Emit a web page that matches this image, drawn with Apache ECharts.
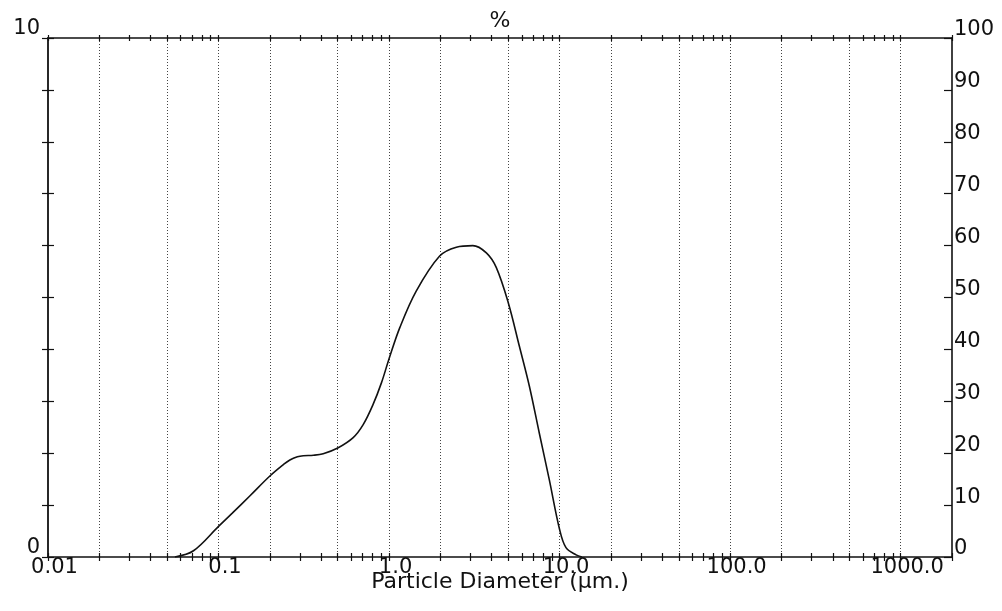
<!DOCTYPE html>
<html><head><meta charset="utf-8">
<script src="https://cdn.jsdelivr.net/npm/echarts@6/dist/echarts.min.js"></script>
<style>html,body{margin:0;padding:0;background:#fff}#c{width:1002px;height:611px}</style>
</head><body><div id="c"></div>
<script>
// Particle diameter (µm) and frequency (%)
const diameters = [0.0555, 0.0713, 0.1, 0.12, 0.153, 0.2, 0.24, 0.262, 0.29, 0.314, 0.36, 0.411, 0.5, 0.616, 0.705, 0.806, 0.903, 1.0, 1.156, 1.44, 1.98, 2.48, 3.1, 3.72, 4.25, 5.0, 5.81, 6.65, 7.6, 8.7, 10.0, 10.9, 12.5, 13.5];
const frequency = [0, 0.12, 0.59, 0.84, 1.18, 1.56, 1.78, 1.87, 1.93, 1.95, 1.96, 1.99, 2.10, 2.30, 2.55, 2.94, 3.36, 3.82, 4.42, 5.12, 5.80, 5.97, 6.00, 5.86, 5.58, 4.90, 4.06, 3.29, 2.39, 1.49, 0.53, 0.18, 0.04, 0];

// Axis settings
const xMinDiameter = 0.01;
const xMaxDiameter = 2000;
const xLabelValues = [0.01, 0.1, 1, 10, 100, 1000];
const xTickLabels = ['0.01', '0.1', '1.0', '10.0', '100.0', '1000.0'];
const tickDecades = [0.01, 0.1, 1, 10, 100, 1000];
const tickMantissas = [1, 2, 3, 4, 5, 6, 7, 8, 9];
const gridDiameters = [0.02, 0.05, 0.1, 0.2, 0.5, 1, 2, 5, 10, 20, 50, 100, 200, 500, 1000];
const leftLabelValues = [0, 10];
const rightLabelValues = [0, 10, 20, 30, 40, 50, 60, 70, 80, 90, 100];
const xAxisTitle = 'Particle Diameter (µm.)';
const topAxisTitle = '%';

const lg = Math.log10;
const tickValues = [];
tickDecades.forEach(d => tickMantissas.forEach(m => { const v = d * m; if (v <= xMaxDiameter * 1.0001) tickValues.push(lg(v)); }));
const xMin = lg(xMinDiameter), xMax = lg(xMaxDiameter);
const FONT = 'DejaVu Sans';
const INK = '#111';

function xFmt(v) {
  const i = xLabelValues.findIndex(d => Math.abs(lg(d) - v) < 1e-6);
  return i >= 0 ? '{t|' + xTickLabels[i] + '}' : '';
}

const baseX = {
  type: 'value', min: xMin, max: xMax,
  splitLine: { show: false },
  axisLine: { show: false, onZero: false },
  axisTick: { show: false },
  axisLabel: { show: false }
};

const chart = echarts.init(document.getElementById('c'), null, { renderer: 'canvas' });
chart.setOption({
  animation: false,
  backgroundColor: '#fff',
  grid: { left: 48, right: 50, top: 38, bottom: 54, containLabel: false },
  xAxis: [
    Object.assign({}, baseX, {
      position: 'bottom',
      axisLine: { show: true, onZero: false, lineStyle: { color: INK, width: 1.6 } },
      axisTick: { show: true, inside: false, length: 4, customValues: tickValues, lineStyle: { color: INK, width: 1.2 } },
      axisLabel: {
        show: true, customValues: xLabelValues.map(lg), margin: 0, formatter: xFmt,
        rich: { t: { fontSize: 21, fontFamily: FONT, color: INK, padding: [0, 0, 0, 13] } }
      },
      name: xAxisTitle, nameLocation: 'middle', nameGap: 14, nameMoveOverlap: false,
      nameTextStyle: { fontSize: 22, fontFamily: FONT, color: INK, verticalAlign: 'top' }
    }),
    Object.assign({}, baseX, {
      position: 'bottom',
      axisTick: { show: true, inside: true, length: 4, customValues: tickValues, lineStyle: { color: INK, width: 1.2 } }
    }),
    Object.assign({}, baseX, {
      position: 'top',
      axisLine: { show: true, onZero: false, lineStyle: { color: INK, width: 1.6 } },
      axisTick: { show: true, inside: false, length: 3, customValues: tickValues, lineStyle: { color: INK, width: 1.2 } },
      name: topAxisTitle, nameLocation: 'middle', nameGap: 6,
      nameTextStyle: { fontSize: 22, fontFamily: FONT, color: INK }
    }),
    Object.assign({}, baseX, {
      position: 'top',
      axisTick: { show: true, inside: true, length: 3, customValues: tickValues, lineStyle: { color: INK, width: 1.2 } }
    }),
    Object.assign({}, baseX, {
      position: 'bottom',
      axisTick: { show: false, customValues: gridDiameters.map(lg) },
      splitLine: { show: true, lineStyle: { color: '#444', width: 1, type: [1, 2] } }
    })
  ],
  yAxis: [
    {
      type: 'value', position: 'left', min: 0, max: 10, interval: 1,
      splitLine: { show: false },
      axisLine: { show: true, onZero: false, lineStyle: { color: INK, width: 1.8 } },
      axisTick: { show: true, inside: false, length: 6, lineStyle: { color: INK, width: 1.2 } },
      axisLabel: { show: true, customValues: leftLabelValues, margin: 8, fontSize: 21, fontFamily: FONT, color: INK, verticalAlign: 'bottom', lineHeight: 18 }
    },
    {
      type: 'value', position: 'left', min: 0, max: 10, interval: 1,
      splitLine: { show: false },
      axisLine: { show: false, onZero: false },
      axisTick: { show: true, inside: true, length: 6, lineStyle: { color: INK, width: 1.2 } },
      axisLabel: { show: false }
    },
    {
      type: 'value', position: 'right', min: 0, max: 100, interval: 10,
      splitLine: { show: false },
      axisLine: { show: true, onZero: false, lineStyle: { color: INK, width: 1.6 } },
      axisTick: { show: true, inside: true, length: 8, lineStyle: { color: INK, width: 1.2 } },
      axisLabel: { show: true, customValues: rightLabelValues, margin: 2, fontSize: 21, fontFamily: FONT, color: INK, verticalAlign: 'bottom', lineHeight: 16 }
    }
  ],
  series: [{
    type: 'line', xAxisIndex: 0, yAxisIndex: 0,
    data: diameters.map((d, i) => [lg(d), frequency[i]]),
    showSymbol: false, symbol: 'none',
    smooth: 0.35,
    lineStyle: { color: INK, width: 1.6 }
  }]
});
</script></body></html>
